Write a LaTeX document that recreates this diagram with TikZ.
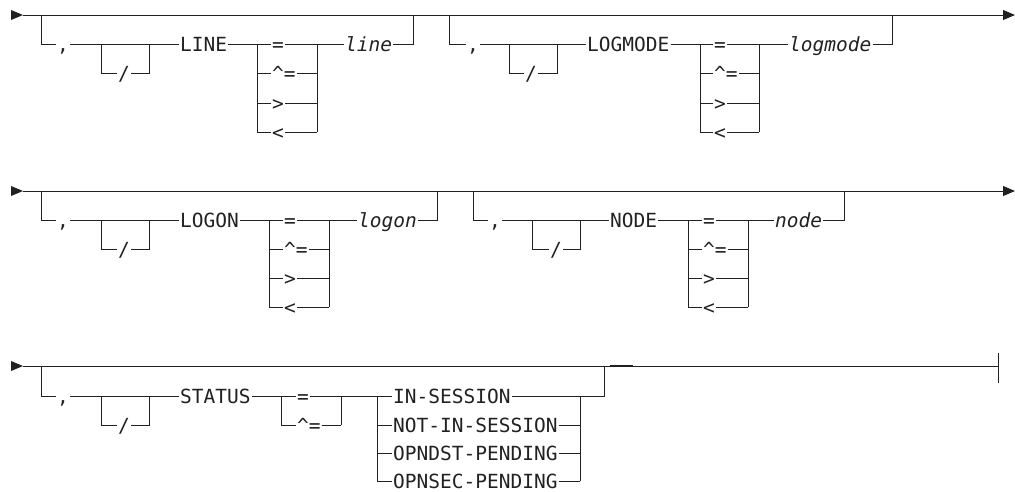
\documentclass[tikz,border=0pt]{standalone}
\usepackage{fontspec}
\usepackage{tikz}
\usetikzlibrary{arrows.meta}
\newfontfamily\rrfamily{DejaVu Sans Mono}
\newfontfamily\rritfamily{DejaVu Sans Mono Oblique}
\definecolor{ink}{gray}{0.13}

\begin{document}
\begin{tikzpicture}[
    x=1pt, y=-1pt,
    rr/.style={draw=ink, line width=0.9pt},
    kw/.style={font=\rrfamily\fontsize{19.5}{20}\selectfont, text=ink, inner xsep=1pt,
               inner ysep=0pt, text height=14pt, text depth=0pt, anchor=west},
    var/.style={kw, font=\rritfamily\fontsize{19.5}{20}\selectfont},
    arr/.style={rr, -{Triangle[length=12pt, width=10pt]}}
  ]
  \useasboundingbox (0,0) rectangle (1015,491);

  % ---------------- row 1: LINE, LOGMODE ----------------
  \coordinate (s1) at (11,15);
  \coordinate (b1) at (23,15);
  \coordinate (e1) at (1015,15);
  \fill[ink] (s1) ++(0,-5) -- ++(12,5) -- ++(-12,5) -- cycle;
  \draw[arr] (b1) -- (e1);

  \node[kw] (c1) at (56,44) {,};
  \node[kw, anchor=center] (sl1) at (124,73) {/};
  \node[kw] (k1) at (179,44) {LINE};
  \node[kw] (o1a) at (271,44) {=};
  \node[kw] (o1b) at (271,73) {\textasciicircum=};
  \node[kw] (o1c) at (271,103) {>};
  \node[kw] (o1d) at (271,132) {<};
  \node[var] (v1) at (344,44) {line};
  \draw[rr] (41,15) |- (c1);
  \draw[rr] (c1) -- (k1) -- (o1a) -- (v1);
  \draw[rr] (101,44) |- (sl1) -| (149,44);
  \draw[rr] (257,44) -- (257,132) (317,44) -- (317,132);
  \draw[rr] (257,73) -- (o1b) -- (317,73);
  \draw[rr] (257,103) -- (o1c) -- (317,103);
  \draw[rr] (257,132) -- (o1d) -- (317,132);
  \draw[rr] (v1) -| (413,15);

  \node[kw] (c2) at (466,44) {,};
  \node[kw, anchor=center] (sl2) at (531,73) {/};
  \node[kw] (k2) at (586,44) {LOGMODE};
  \node[kw] (o2a) at (713,44) {=};
  \node[kw] (o2b) at (713,73) {\textasciicircum=};
  \node[kw] (o2c) at (713,103) {>};
  \node[kw] (o2d) at (713,132) {<};
  \node[var] (v2) at (788,44) {logmode};
  \draw[rr] (449,15) |- (c2);
  \draw[rr] (c2) -- (k2) -- (o2a) -- (v2);
  \draw[rr] (509,44) |- (sl2) -| (557,44);
  \draw[rr] (700,44) -- (700,132) (759,44) -- (759,132);
  \draw[rr] (700,73) -- (o2b) -- (759,73);
  \draw[rr] (700,103) -- (o2c) -- (759,103);
  \draw[rr] (700,132) -- (o2d) -- (759,132);
  \draw[rr] (v2) -| (892,15);

  % ---------------- row 2: LOGON, NODE ----------------
  \coordinate (s2) at (11,191);
  \coordinate (b2) at (23,191);
  \coordinate (e2) at (1015,191);
  \fill[ink] (s2) ++(0,-5) -- ++(12,5) -- ++(-12,5) -- cycle;
  \draw[arr] (b2) -- (e2);

  \node[kw] (c3) at (56,220) {,};
  \node[kw, anchor=center] (sl3) at (124,249) {/};
  \node[kw] (k3) at (179,220) {LOGON};
  \node[kw] (o3a) at (283,220) {=};
  \node[kw] (o3b) at (283,249) {\textasciicircum=};
  \node[kw] (o3c) at (283,278) {>};
  \node[kw] (o3d) at (283,307) {<};
  \node[var] (v3) at (357,220) {logon};
  \draw[rr] (41,191) |- (c3);
  \draw[rr] (c3) -- (k3) -- (o3a) -- (v3);
  \draw[rr] (101,220) |- (sl3) -| (149,220);
  \draw[rr] (269,220) -- (269,307) (329,220) -- (329,307);
  \draw[rr] (269,249) -- (o3b) -- (329,249);
  \draw[rr] (269,278) -- (o3c) -- (329,278);
  \draw[rr] (269,307) -- (o3d) -- (329,307);
  \draw[rr] (v3) -| (437,191);

  \node[kw] (c4) at (488,220) {,};
  \node[kw, anchor=center] (sl4) at (556,249) {/};
  \node[kw] (k4) at (609,220) {NODE};
  \node[kw] (o4a) at (702,220) {=};
  \node[kw] (o4b) at (702,249) {\textasciicircum=};
  \node[kw] (o4c) at (702,278) {>};
  \node[kw] (o4d) at (702,307) {<};
  \node[var] (v4) at (774,220) {node};
  \draw[rr] (473,191) |- (c4);
  \draw[rr] (c4) -- (k4) -- (o4a) -- (v4);
  \draw[rr] (532,220) |- (sl4) -| (580,220);
  \draw[rr] (688,220) -- (688,307) (748,220) -- (748,307);
  \draw[rr] (688,249) -- (o4b) -- (748,249);
  \draw[rr] (688,278) -- (o4c) -- (748,278);
  \draw[rr] (688,307) -- (o4d) -- (748,307);
  \draw[rr] (v4) -| (844,191);

  % ---------------- row 3: STATUS ----------------
  \coordinate (s3) at (11,366);
  \coordinate (b3) at (23,366);
  \coordinate (e3) at (998,366);
  \fill[ink] (s3) ++(0,-5) -- ++(12,5) -- ++(-12,5) -- cycle;
  \draw[rr] (b3) -- (e3);
  \draw[ink, line width=2pt] (610,366) -- (633,366);
  \draw[rr] (e3) ++(0,-13) -- ++(0,30);

  \node[kw] (c5) at (56,396) {,};
  \node[kw, anchor=center] (sl5) at (124,425) {/};
  \node[kw] (k5) at (179,396) {STATUS};
  \node[kw] (o5a) at (296,396) {=};
  \node[kw] (o5b) at (296,425) {\textasciicircum=};
  \node[kw] (o6a) at (392,396) {IN-SESSION};
  \node[kw] (o6b) at (392,425) {NOT-IN-SESSION};
  \node[kw] (o6c) at (392,453) {OPNDST-PENDING};
  \node[kw] (o6d) at (392,481) {OPNSEC-PENDING};
  \draw[rr] (41,366) |- (c5);
  \draw[rr] (c5) -- (k5) -- (o5a) -- (o6a) -| (604,366);
  \draw[rr] (101,396) |- (sl5) -| (149,396);
  \draw[rr] (281,396) -- (281,425) (341,396) -- (341,425);
  \draw[rr] (281,425) -- (o5b) -- (341,425);
  \draw[rr] (377,396) -- (377,481) (580,396) -- (580,481);
  \draw[rr] (377,425) -- (o6b) -- (580,425);
  \draw[rr] (377,453) -- (o6c) -- (580,453);
  \draw[rr] (377,481) -- (o6d) -- (580,481);
\end{tikzpicture}
\end{document}
